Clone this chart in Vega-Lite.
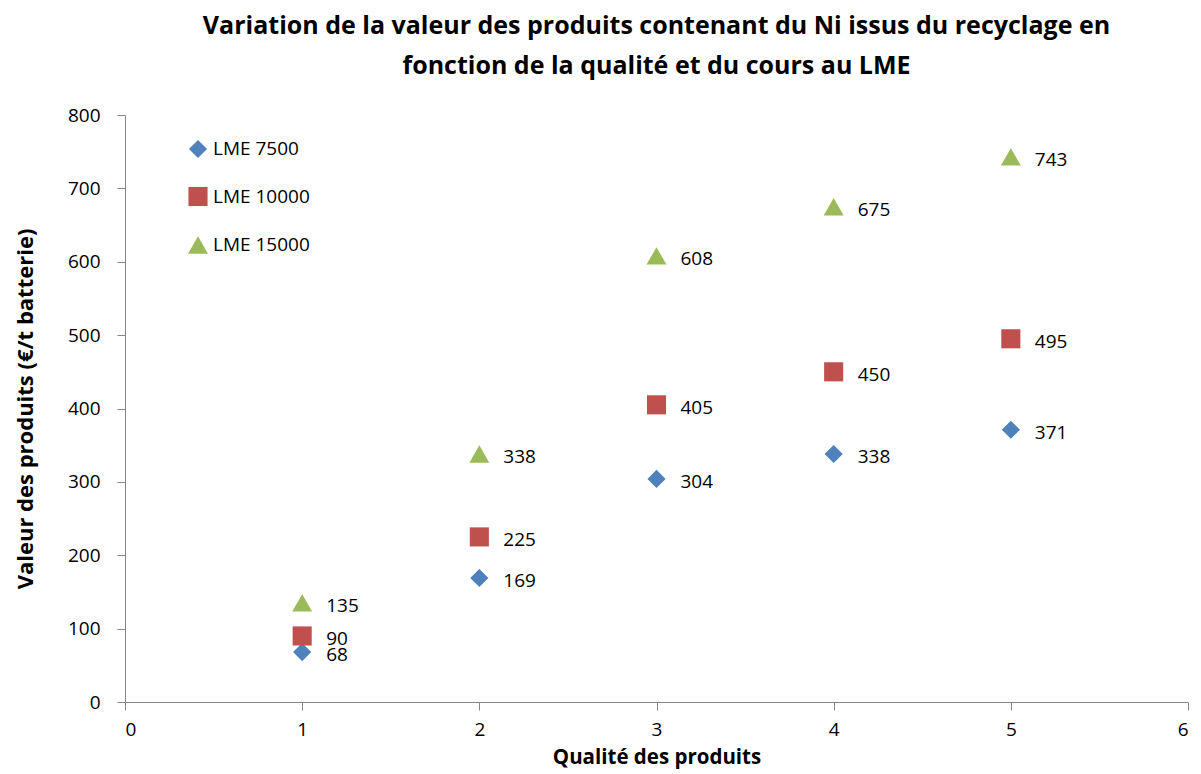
{
  "$schema": "https://vega.github.io/schema/vega-lite/v6.json",
  "autosize": {"type": "none"},
  "width": 1063,
  "height": 587,
  "padding": {"left": 125, "top": 115, "right": 13, "bottom": 72},
  "background": "white",
  "config": {
    "view": {"stroke": null},
    "font": "Open Sans",
    "axis": {"grid": false, "domainColor": "#868686", "tickColor": "#868686", "tickSize": 8, "labelFontSize": 19, "labelColor": "#000000", "titleFontSize": 22, "titleFontWeight": "bold", "titleColor": "#000000", "labelFont": "Open Sans", "titleFont": "Open Sans"}
  },
  "title": {
    "text": ["Variation de la valeur des produits contenant du Ni issus du recyclage en", "fonction de la qualité et du cours au LME"],
    "fontSize": 25,
    "fontWeight": "bold",
    "font": "Open Sans",
    "color": "#000000",
    "anchor": "middle",
    "lineHeight": 40,
    "offset": 27
  },
  "data": {
    "values": [
      {"qualite": 1, "valeur": 68, "serie": "LME 7500"},
      {"qualite": 2, "valeur": 169, "serie": "LME 7500"},
      {"qualite": 3, "valeur": 304, "serie": "LME 7500"},
      {"qualite": 4, "valeur": 338, "serie": "LME 7500"},
      {"qualite": 5, "valeur": 371, "serie": "LME 7500"},
      {"qualite": 1, "valeur": 90, "serie": "LME 10000"},
      {"qualite": 2, "valeur": 225, "serie": "LME 10000"},
      {"qualite": 3, "valeur": 405, "serie": "LME 10000"},
      {"qualite": 4, "valeur": 450, "serie": "LME 10000"},
      {"qualite": 5, "valeur": 495, "serie": "LME 10000"},
      {"qualite": 1, "valeur": 135, "serie": "LME 15000"},
      {"qualite": 2, "valeur": 338, "serie": "LME 15000"},
      {"qualite": 3, "valeur": 608, "serie": "LME 15000"},
      {"qualite": 4, "valeur": 675, "serie": "LME 15000"},
      {"qualite": 5, "valeur": 743, "serie": "LME 15000"}
    ]
  },
  "encoding": {
    "x": {"field": "qualite", "type": "quantitative", "scale": {"domain": [0, 6], "nice": false}, "axis": {"title": "Qualité des produits", "titleFontSize": 20.5, "values": [0, 1, 2, 3, 4, 5, 6], "labelPadding": 10, "titlePadding": 8}},
    "y": {"field": "valeur", "type": "quantitative", "scale": {"domain": [0, 800], "nice": false}, "axis": {"title": "Valeur des produits (€/t batterie)", "values": [0, 100, 200, 300, 400, 500, 600, 700, 800], "labelPadding": 17, "titlePadding": 30}}
  },
  "layer": [
    {
      "mark": {"type": "point", "filled": true, "opacity": 1},
      "encoding": {
        "color": {"field": "serie", "type": "nominal", "scale": {"domain": ["LME 7500", "LME 10000", "LME 15000"], "range": ["#4F81BD", "#C0504D", "#9BBB59"]}, "legend": {"title": null, "orient": "none", "legendX": 62, "legendY": 24, "labelFontSize": 19, "labelFont": "Open Sans", "labelColor": "#000000", "rowPadding": 27, "labelOffset": 4}},
        "shape": {"field": "serie", "type": "nominal", "scale": {"domain": ["LME 7500", "LME 10000", "LME 15000"], "range": ["diamond", "square", "triangle-up"]}},
        "size": {"field": "serie", "type": "nominal", "scale": {"domain": ["LME 7500", "LME 10000", "LME 15000"], "range": [330, 400, 420]}}
      }
    },
    {
      "mark": {"type": "text", "align": "left", "baseline": "middle", "dx": 24, "dy": 3, "fontSize": 19, "font": "Open Sans", "color": "#000000"},
      "encoding": {"text": {"field": "valeur", "type": "quantitative"}}
    }
  ]
}
